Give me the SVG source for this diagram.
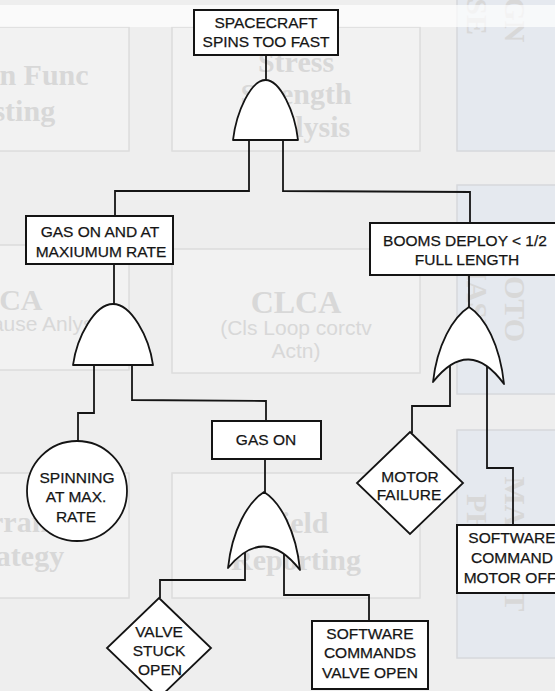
<svg xmlns="http://www.w3.org/2000/svg" width="555" height="691" viewBox="0 0 555 691">
<style>
.bg{fill:#f2f2f2;stroke:#dcdcdc;stroke-width:1.5}
.bb{fill:#e5e9ef;stroke:#d6d8dc;stroke-width:1.5}
.bt{font-family:"Liberation Serif","Times New Roman",serif;font-weight:bold;font-size:30px;fill:#d8d8d8;text-anchor:middle}
.bs{font-family:"Liberation Sans",Arial,sans-serif;font-size:21px;fill:#d8d8d8;text-anchor:middle}
.n{fill:#fff;stroke:#141414;stroke-width:2}
.g{fill:#fff;stroke:#141414;stroke-width:1.8;stroke-linejoin:round}
.t{font-family:"Liberation Sans",Arial,sans-serif;font-size:15.5px;fill:#151515;stroke:#151515;stroke-width:0.25;text-anchor:middle}
.c{fill:none;stroke:#151515;stroke-width:1.8;stroke-linejoin:miter}
</style>
<g id="background">
<rect x="0" y="0" width="555" height="691" fill="#eeeeee"/>
<rect class="bg" x="-120" y="27" width="249" height="124"/>
<rect class="bg" x="172" y="27" width="248" height="124"/>
<rect class="bb" x="457" y="-200" width="160" height="351"/>
<rect class="bg" x="-120" y="245" width="249" height="125"/>
<rect class="bg" x="172" y="249" width="248" height="124"/>
<rect class="bb" x="457" y="185" width="160" height="209"/>
<rect class="bg" x="-120" y="473" width="249" height="125"/>
<rect class="bg" x="172" y="473" width="248" height="125"/>
<rect class="bb" x="457" y="430" width="160" height="228"/>
<text class="bt" x="9" y="85">Design Func</text>
<text class="bt" x="9" y="121">Testing</text>
<text class="bt" x="296" y="72">Stress</text>
<text class="bt" x="296" y="104">Strength</text>
<text class="bt" x="296" y="137">Analysis</text>
<text class="bt" transform="translate(505,-15) rotate(90)">DESIGN</text>
<text class="bt" transform="translate(467,-15) rotate(90)">PHASE</text>
<text class="bt" x="10" y="310">RCA</text>
<text class="bs" x="10" y="331">(Root Cause Anlys)</text>
<text class="bt" x="296" y="313" style="font-size:32px">CLCA</text>
<text class="bs" x="296" y="335">(Cls Loop corctv</text>
<text class="bs" x="296" y="358">Actn)</text>
<text class="bt" transform="translate(505,289) rotate(90)">PROTO</text>
<text class="bt" transform="translate(467,289) rotate(90)">PHASE</text>
<text class="bt" x="10" y="532">Warranty</text>
<text class="bt" x="10" y="566">Strategy</text>
<text class="bt" x="296" y="533">Field</text>
<text class="bt" x="296" y="570">Reporting</text>
<text class="bt" transform="translate(505,544) rotate(90)">MARKET</text>
<text class="bt" transform="translate(467,544) rotate(90)">PHASE</text>
<rect x="0" y="5" width="555" height="22" fill="#ffffff" opacity="0.7"/>
</g>
<g id="connectors">
<polyline class="c" points="266,55 266,81"/>
<polyline class="c" points="249,130 249,191 115,191 115,216"/>
<polyline class="c" points="283,130 283,191 470,192 470,223"/>
<polyline class="c" points="114,264 114,305"/>
<polyline class="c" points="94,355 94,413 78,413 78,441"/>
<polyline class="c" points="132,355 132,400 266,401 266,421"/>
<polyline class="c" points="265,459 265,493"/>
<polyline class="c" points="245,545 245,580 160,580 160,598"/>
<polyline class="c" points="284,545 284,595 369,595 369,621"/>
<polyline class="c" points="469,275 469,308"/>
<polyline class="c" points="450,355 450,406 412,406 412,433"/>
<polyline class="c" points="487,355 487,468 513,468 513,525"/>
</g>
<g id="spacecraft-spins">
<rect class="n" x="194" y="10" width="144" height="45"/>
<text class="t" x="266" y="28">SPACECRAFT</text>
<text class="t" x="266" y="47">SPINS TOO FAST</text>
</g>
<g id="and-gate-1">
<path class="g" d="M233,140 C236.3,111.8 250.9,80 265.5,80 C280.1,80 294.8,111.8 298,140 Z"/>
</g>
<g id="gas-on-max-rate">
<rect class="n" x="26" y="216" width="147" height="48"/>
<text class="t" x="100" y="237">GAS ON AND AT</text>
<text class="t" x="101" y="257">MAXIUMUM RATE</text>
</g>
<g id="booms-deploy">
<rect class="n" x="370" y="223" width="196" height="52"/>
<text class="t" x="465" y="246">BOOMS DEPLOY &lt; 1/2</text>
<text class="t" x="467" y="265">FULL LENGTH</text>
</g>
<g id="and-gate-2">
<path class="g" d="M73,365 C77,336.3 95,304 113,304 C131,304 149,336.3 153,365 Z"/>
</g>
<g id="or-gate-booms">
<path class="g" d="M469,307 C485,317 500,345 504,384 Q469,336 433,382 C437,345 453,317 469,307 Z"/>
</g>
<g id="spinning-max-rate">
<circle class="n" cx="77" cy="491" r="50" style="stroke-width:1.8"/>
<text class="t" x="77" y="483">SPINNING</text>
<text class="t" x="76" y="502">AT MAX.</text>
<text class="t" x="76" y="522">RATE</text>
</g>
<g id="gas-on">
<rect class="n" x="212" y="421" width="109" height="38"/>
<text class="t" x="266" y="445">GAS ON</text>
</g>
<g id="or-gate-gas">
<path class="g" d="M264,492 C280,502 296,530 300,570 Q264,524 228,568 C232,530 248,502 264,492 Z"/>
</g>
<g id="motor-failure">
<polygon class="n" points="410,432 463,483 410,534 357,483" style="stroke-width:1.8"/>
<text class="t" x="410" y="482">MOTOR</text>
<text class="t" x="409" y="500">FAILURE</text>
</g>
<g id="software-motor-off">
<rect class="n" x="457" y="525" width="108" height="68"/>
<text class="t" x="512" y="543">SOFTWARE</text>
<text class="t" x="512" y="563">COMMAND</text>
<text class="t" x="510" y="583">MOTOR OFF</text>
</g>
<g id="valve-stuck-open">
<polygon class="n" points="159,598 211,648 159,698 107,648" style="stroke-width:1.8"/>
<text class="t" x="159" y="637">VALVE</text>
<text class="t" x="159" y="656">STUCK</text>
<text class="t" x="160" y="675">OPEN</text>
</g>
<g id="software-valve-open">
<rect class="n" x="312" y="621" width="116" height="68"/>
<text class="t" x="370" y="639">SOFTWARE</text>
<text class="t" x="370" y="658">COMMANDS</text>
<text class="t" x="370" y="678">VALVE OPEN</text>
</g>
</svg>
